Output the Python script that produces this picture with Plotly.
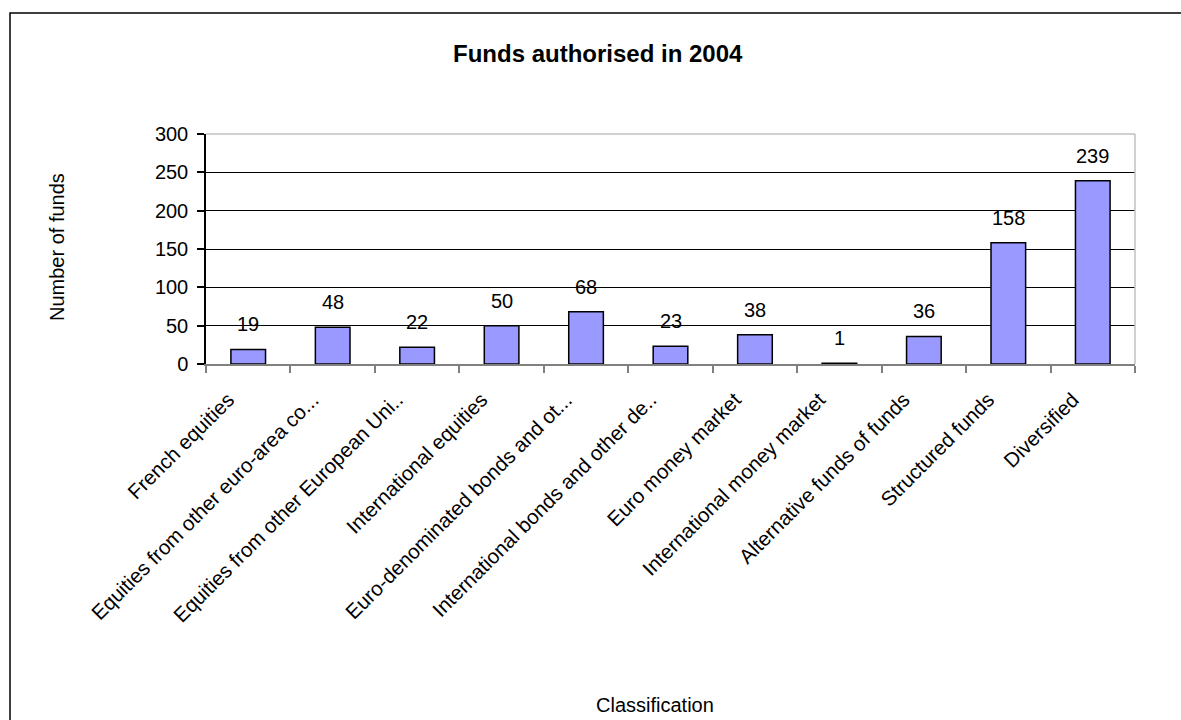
import plotly.graph_objects as go

categories = [
    "French equities",
    "Equities from other euro-area co...",
    "Equities from other European Uni..",
    "International equities",
    "Euro-denominated bonds and ot...",
    "International bonds and other de..",
    "Euro money market",
    "International money market",
    "Alternative funds of funds",
    "Structured funds",
    "Diversified",
]
values = [19, 48, 22, 50, 68, 23, 38, 1, 36, 158, 239]
y_ticks = [0, 50, 100, 150, 200, 250, 300]

FONT = "Liberation Sans, Arial, sans-serif"
W, H = 1181, 720
PL, PR, PT, PB = 206, 1135, 134, 364  # plot area in page pixels
L, R, T, B = PL, W - PR, PT, H - PB
pw, ph = W - L - R, H - T - B

def px(x):
    return (x - L) / pw

def py(y):
    return (H - B - y) / ph

fig = go.Figure()
fig.add_trace(go.Bar(
    x=categories, y=values,
    marker=dict(color="#9999FF", line=dict(color="black", width=1.5)),
    width=0.41,
    hoverinfo="x+y",
))

annotations = [
    dict(x=c, y=v, xref="x", yref="y", text=str(v), showarrow=False,
         yanchor="bottom", yshift=12,
         font=dict(family=FONT, size=20, color="black"))
    for c, v in zip(categories, values)
]
annotations += [
    dict(text="<b>Funds authorised in 2004</b>", xref="paper", yref="paper",
         x=px(598), y=py(53), showarrow=False,
         font=dict(family=FONT, size=24, color="black"),
         xanchor="center", yanchor="middle"),
    dict(text="Number of funds", xref="paper", yref="paper",
         x=px(57), y=py(247), showarrow=False, textangle=-90,
         font=dict(family=FONT, size=20, color="black"),
         xanchor="center", yanchor="middle"),
    dict(text="Classification", xref="paper", yref="paper",
         x=px(655), y=py(705), showarrow=False,
         font=dict(family=FONT, size=20, color="black"),
         xanchor="center", yanchor="middle"),
]

fig.update_layout(
    width=W, height=H,
    margin=dict(l=L, r=R, t=T, b=B),
    paper_bgcolor="white", plot_bgcolor="white",
    showlegend=False,
    font=dict(family=FONT, size=20, color="black"),
    xaxis=dict(
        tickangle=-45, tickfont=dict(family=FONT, size=20.5, color="black"),
        showline=True, linecolor="#808080", linewidth=1.5,
        ticks="outside", ticklen=7, tickcolor="#808080", tickwidth=1.5,
        tickson="boundaries", showgrid=False,
        ticklabelstandoff=14, ticklabelshift=-20,
    ),
    yaxis=dict(
        range=[0, 300], tickvals=y_ticks,
        tickfont=dict(family=FONT, size=20, color="black"),
        showline=True, linecolor="black", linewidth=1.5,
        ticks="outside", ticklen=7, tickcolor="black", tickwidth=1.5,
        showgrid=True, gridcolor="black", gridwidth=1,
        zeroline=False, ticklabelstandoff=5,
    ),
    shapes=[
        dict(type="rect", xref="paper", yref="paper",
             x0=px(10), x1=px(1200), y0=py(740), y1=py(13),
             line=dict(color="black", width=1.5), fillcolor="rgba(0,0,0,0)",
             layer="below"),
        dict(type="line", xref="paper", yref="paper", x0=0, x1=1, y0=1, y1=1,
             line=dict(color="#C0C0C0", width=1.5)),
        dict(type="line", xref="paper", yref="paper", x0=1, x1=1, y0=0, y1=1,
             line=dict(color="#C0C0C0", width=1.5)),
    ],
    annotations=annotations,
)

fig.write_html(
    "out.html",
    config={"displayModeBar": False},
    post_script="document.body.style.margin='0';document.body.style.overflow='hidden';",
)
